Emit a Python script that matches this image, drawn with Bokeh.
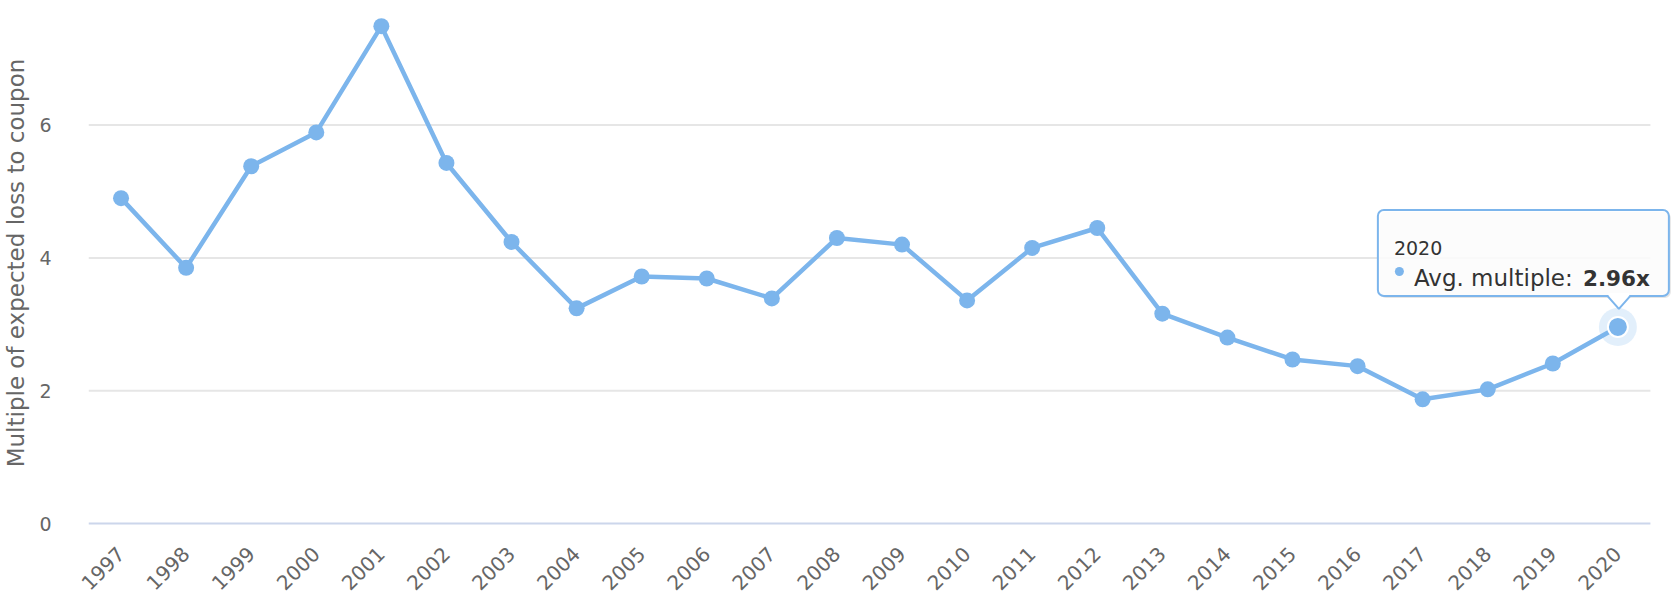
import math
from bokeh.plotting import figure
from bokeh.models import Range1d, FixedTicker, Label, BoxAnnotation
from bokeh.embed import file_html
from bokeh.resources import INLINE

# ---- data ----
years = ["1997", "1998", "1999", "2000", "2001", "2002", "2003", "2004", "2005", "2006",
         "2007", "2008", "2009", "2010", "2011", "2012", "2013", "2014", "2015", "2016",
         "2017", "2018", "2019", "2020"]
multiples = [4.90, 3.85, 5.38, 5.89, 7.49, 5.43, 4.24, 3.24, 3.72, 3.69,
             3.39, 4.30, 4.20, 3.36, 4.15, 4.45, 3.16, 2.80, 2.47, 2.37,
             1.87, 2.02, 2.41, 2.96]
y_ticks = [0, 2, 4, 6]
y_title = "Multiple of expected loss to coupon"
series_name = "Avg. multiple"

# ---- layout constants (pixels) ----
CAT_PX = 65.08      # width of one category
UNIT_PX = 66.4      # pixels per y unit
FRAME_W = 1590
FRAME_H = 525
n = len(years)
x_end = FRAME_W / CAT_PX
y_start = -2 / UNIT_PX
y_end = y_start + FRAME_H / UNIT_PX

BLUE = "#7cb5ec"
FONT = "DejaVu Sans"

xs = [i + 0.5 for i in range(n)]

p = figure(frame_width=FRAME_W, frame_height=FRAME_H,
           x_range=Range1d(0, x_end), y_range=Range1d(y_start, y_end),
           output_backend="svg", toolbar_location=None,
           min_border_left=88, min_border_right=0, min_border_top=0, min_border_bottom=75)
p.outline_line_color = None
p.xgrid.visible = False
p.ygrid.visible = False

# grid lines and axis line drawn across category span only
p.segment(x0=[0] * (len(y_ticks) - 1), x1=[n] * (len(y_ticks) - 1),
          y0=y_ticks[1:], y1=y_ticks[1:], line_color="#e6e6e6", line_width=2)
p.segment(x0=[0], x1=[n], y0=[y_ticks[0]], y1=[y_ticks[0]], line_color="#ccd6eb", line_width=2)

# axes
xa = p.xaxis[0]
xa.ticker = FixedTicker(ticks=xs)
xa.major_label_overrides = {x: y for x, y in zip(xs, years)}
xa.major_label_orientation = math.pi / 4
xa.axis_line_color = None
xa.major_tick_line_color = None
xa.minor_tick_line_color = None
xa.major_label_text_font = FONT
xa.major_label_text_font_size = "20px"
xa.major_label_text_color = "#666666"
xa.major_label_standoff = 19

ya = p.yaxis[0]
ya.ticker = FixedTicker(ticks=y_ticks)
ya.axis_line_color = None
ya.major_tick_line_color = None
ya.minor_tick_line_color = None
ya.major_label_text_font = FONT
ya.major_label_text_font_size = "19px"
ya.major_label_text_color = "#666666"
ya.major_label_standoff = 31
ya.axis_label = y_title
ya.axis_label_text_font = FONT
ya.axis_label_text_font_size = "23px"
ya.axis_label_text_font_style = "normal"
ya.axis_label_text_color = "#666666"
ya.axis_label_standoff = 7

# series
p.line(xs, multiples, line_color=BLUE, line_width=4.5, line_join="round")
p.scatter(xs, multiples, size=16, fill_color=BLUE, line_color=None)

# hovered point (last)
px, py = xs[-1], multiples[-1]
p.scatter([px], [py], size=38, fill_color=BLUE, fill_alpha=0.22, line_color=None)
p.scatter([px], [py], size=20, fill_color=BLUE, line_color="white", line_width=2)

# tooltip, positioned relative to the hovered point by pixel offsets
def dx(pix):
    return pix / CAT_PX

def dy(pix_up):
    return pix_up / UNIT_PX

box_l, box_r = px + dx(-240), px + dx(51)
box_b, box_t = py + dy(31), py + dy(117)

shadow = BoxAnnotation(left=box_l + dx(2), right=box_r + dx(2), top=box_t - dy(2), bottom=box_b - dy(2),
                       fill_color="#000000", fill_alpha=0.10, line_color=None, border_radius=6)
p.add_layout(shadow)
box = BoxAnnotation(left=box_l, right=box_r, top=box_t, bottom=box_b,
                    fill_color="#ffffff", fill_alpha=0.88, line_color=BLUE, line_alpha=1.0,
                    line_width=2, border_radius=6)
p.add_layout(box)

# callout pointer (drawn above the box)
tip_x, tip_y = px + dx(1), py + dy(18)
bl, br = px + dx(-10.5), px + dx(12.5)
p.patch([bl + dx(1), tip_x, br - dx(1), br - dx(1), bl + dx(1)],
        [box_b, tip_y + dy(2), box_b, box_b + dy(3), box_b + dy(3)],
        fill_color="#ffffff", fill_alpha=1, line_color=None, level="overlay")
p.line([bl, tip_x, br], [box_b, tip_y, box_b], line_color=BLUE, line_width=2, level="overlay")

p.add_layout(Label(x=box_l + dx(16), y=py + dy(78.5), text=years[-1], text_font=FONT,
                   text_font_size="19px", text_color="#333333", text_baseline="alphabetic"))
p.scatter([px + dx(-218.5)], [py + dy(55.5)], size=9, fill_color=BLUE, line_color=None,
          level="overlay")
p.add_layout(Label(x=px + dx(-204), y=py + dy(48.5), text=series_name + ": ", text_font=FONT,
                   text_font_size="23px", text_color="#333333", text_baseline="alphabetic"))
p.add_layout(Label(x=px + dx(32), y=py + dy(48.5), text=f"{multiples[-1]:.2f}x", text_font=FONT,
                   text_font_size="21.5px", text_font_style="bold", text_color="#333333",
                   text_align="right", text_baseline="alphabetic"))

open("out.html", "w").write(file_html(p, INLINE))
